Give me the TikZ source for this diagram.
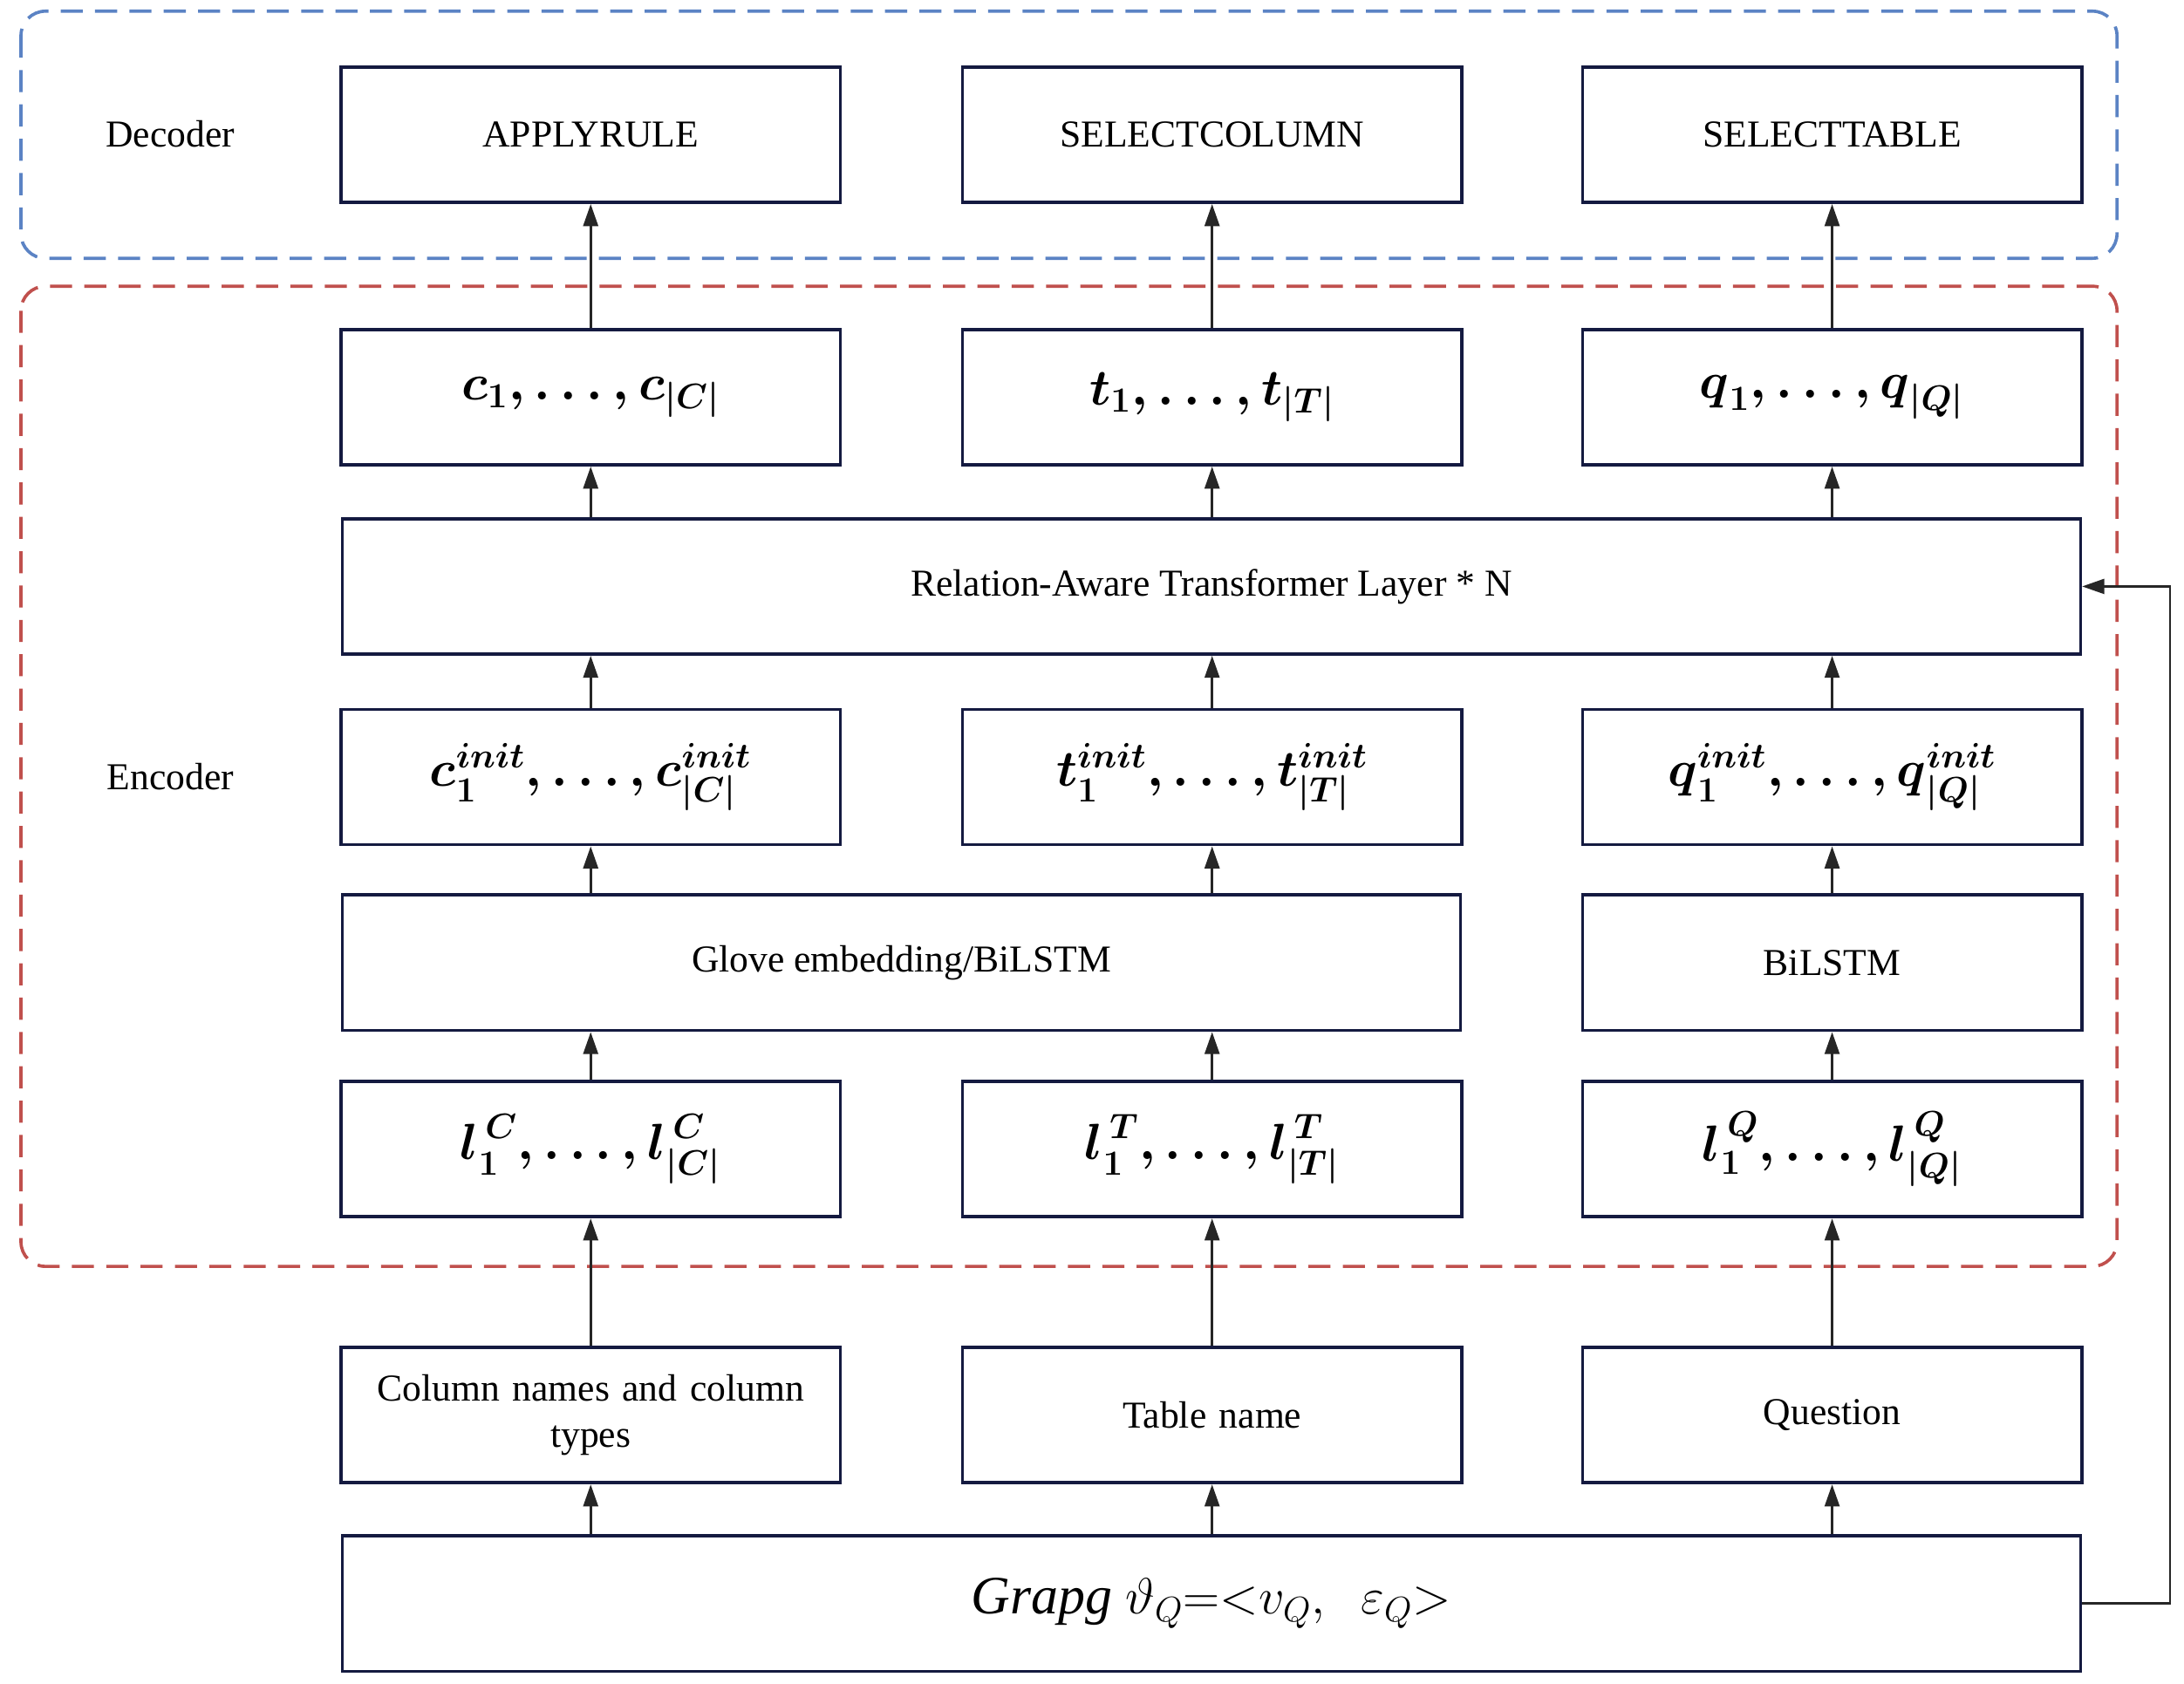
\documentclass[tikz,border=0pt]{standalone}
\usepackage{amsmath}
\usepackage{fontspec}
\setmainfont{Liberation Serif}
\usetikzlibrary{arrows.meta}
\definecolor{bdash}{HTML}{5B83C4}
\definecolor{rdash}{HTML}{C0504D}
\definecolor{navy}{HTML}{141A40}
\begin{document}
\begin{tikzpicture}[x=0.02cm,y=-0.02cm,
  box/.style={draw=navy,line width=1.3pt,minimum height=1.94cm,inner sep=1pt,font=\fontsize{15.5}{19}\selectfont,align=center},
  sbox/.style={box,minimum width=7.12cm,text width=7.08cm},
  mbox/.style={box,font=\fontsize{20}{22}\selectfont\boldmath},
  arr/.style={-{Triangle[length=9pt,width=6pt]},line width=1pt,black!85}]
\useasboundingbox (0,0) rectangle (1564,1206);
\draw[line width=1.3pt,bdash,dash pattern=on 9pt off 5pt,rounded corners=10pt] (15,8) rectangle (1516,185);
\draw[line width=1.3pt,rdash,dash pattern=on 9pt off 5pt,rounded corners=10pt] (15,205) rectangle (1516,907);
\node[font=\fontsize{15.5}{19}\selectfont] (dec) at (122,96) {Decoder};
\node[font=\fontsize{15.5}{19}\selectfont] (enc) at (122,556) {Encoder};
% decoder
\node[sbox] (d1) at (423,96.5) {APPLYRULE};
\node[sbox] (d2) at (868,96.5) {SELECTCOLUMN};
\node[sbox] (d3) at (1312,96.5) {SELECTTABLE};
% outputs
\node[sbox,mbox] (o1) at (423,284.5) {$\boldsymbol{c}_1,\ldots,\boldsymbol{c}_{|C|}$};
\node[sbox,mbox] (o2) at (868,284.5) {$\boldsymbol{t}_1,\ldots,\boldsymbol{t}_{|T|}$};
\node[sbox,mbox] (o3) at (1312,284.5) {$\boldsymbol{q}_1,\ldots,\boldsymbol{q}_{|Q|}$};
\node[box,minimum width=24.9cm] (rat) at (867.5,420) {Relation-Aware Transformer Layer * N};
\node[sbox,mbox] (i1) at (423,556.5) {$\boldsymbol{c}_1^{init},\ldots,\boldsymbol{c}_{|C|}^{init}$};
\node[sbox,mbox] (i2) at (868,556.5) {$\boldsymbol{t}_1^{init},\ldots,\boldsymbol{t}_{|T|}^{init}$};
\node[sbox,mbox] (i3) at (1312,556.5) {$\boldsymbol{q}_1^{init},\ldots,\boldsymbol{q}_{|Q|}^{init}$};
\node[box,minimum width=16.02cm] (glove) at (645.5,689.5) {Glove embedding/BiLSTM};
\node[sbox] (bil) at (1312,689.5) {BiLSTM};
\node[sbox,mbox] (l1) at (423,823) {$\boldsymbol{l}_1^{\,C},\ldots,\boldsymbol{l}_{|C|}^{\,C}$};
\node[sbox,mbox] (l2) at (868,823) {$\boldsymbol{l}_1^{\,T},\ldots,\boldsymbol{l}_{|T|}^{\,T}$};
\node[sbox,mbox] (l3) at (1312,823) {$\boldsymbol{l}_1^{\,Q},\ldots,\boldsymbol{l}_{|Q|}^{\,Q}$};
\node[sbox,font=\fontsize{15.5}{19}\selectfont] (s1) at (423,1013.5) {Column names and column\\types};
\node[sbox] (s2) at (868,1013.5) {Table name};
\node[sbox] (s3) at (1312,1013.5) {Question};
\node[box,minimum width=24.9cm,font=\fontsize{22}{24}\selectfont] (g) at (867.5,1148.5) {$\mathit{Grapg}\ \vartheta_Q{=}{<}v_Q,\ \ \varepsilon_Q{>}$};
% arrows
\foreach \a/\b in {o1/d1,o2/d2,o3/d3,s1/l1,s2/l2,s3/l3,bil/i3,l3/bil}
  \draw[arr] (\a.north) -- (\b.south);
\draw[arr] (g.north -| s1.south) -- (s1.south);
\draw[arr] (g.north -| s2.south) -- (s2.south);
\draw[arr] (g.north -| s3.south) -- (s3.south);
\draw[arr] (glove.north -| i1.south) -- (i1.south);
\draw[arr] (glove.north -| i2.south) -- (i2.south);
\draw[arr] (l1.north) -- (glove.south -| l1.north);
\draw[arr] (l2.north) -- (glove.south -| l2.north);
\draw[arr] (rat.north -| o1.south) -- (o1.south);
\draw[arr] (rat.north -| o2.south) -- (o2.south);
\draw[arr] (rat.north -| o3.south) -- (o3.south);
\draw[arr] (i1.north) -- (rat.south -| i1.north);
\draw[arr] (i2.north) -- (rat.south -| i2.north);
\draw[arr] (i3.north) -- (rat.south -| i3.north);
\coordinate (fb1) at (1554,1148.5);
\coordinate (fb2) at (1554,420);
\draw[arr] (g.east) -- (fb1) -- (fb2) -- (rat.east);
\end{tikzpicture}
\end{document}
